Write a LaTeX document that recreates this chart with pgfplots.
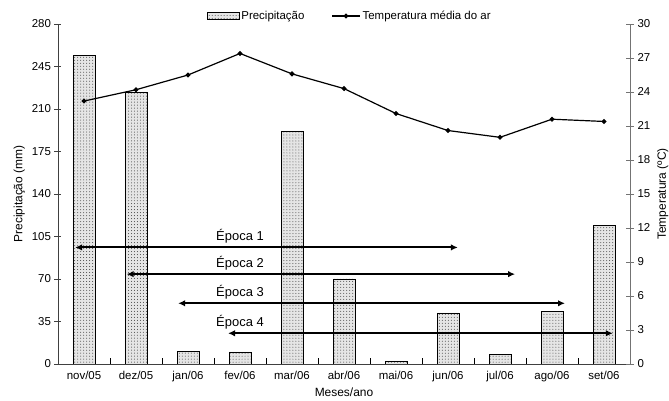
\documentclass[border=0pt]{standalone}
\usepackage{pgfplots}
\pgfplotsset{compat=1.18}
\usepackage{fontspec}
\setmainfont{Liberation Sans}
\usetikzlibrary{patterns,arrows.meta}
\pgfplotsset{
  mybarlegend/.style={legend image code/.code={\draw[##1] (0bp,-3.5bp) rectangle (32bp,3.5bp);}},
  mylinelegend/.style={legend image code/.code={\draw[##1,mark repeat=2,mark phase=2] plot coordinates {(0bp,0bp) (14bp,0bp) (28bp,0bp)};}},
  myarrow/.style={draw=black, line width=2bp, {Latex[length=7bp,width=6.5bp]}-{Latex[length=7bp,width=6.5bp]}},
}
\begin{document}
\begin{tikzpicture}
\pgfplotsset{
  every axis/.append style={
    scale only axis, width=572bp, height=340bp, at={(0,0)}, anchor=south west,
    xmin=-0.5, xmax=10.5,
    /pgf/number format/assume math mode=true,
    tick label style={font=\fontsize{11.5}{13}\selectfont},
    label style={font=\fontsize{12}{14}\selectfont},
  }
}
\begin{axis}[
  ymin=0, ymax=280, ytick={0,35,...,280},
  axis x line=bottom, axis y line=left,
  axis line style={-, black!75, line width=0.8bp},
  xtick={0,...,10},
  xticklabels={nov/05,dez/05,jan/06,fev/06,mar/06,abr/06,mai/06,jun/06,jul/06,ago/06,set/06},
  major x tick style={draw=none},
  minor xtick={-0.5,0.5,...,10.5},
  minor tick length=6bp,
  minor x tick style={black, yshift=3bp},
  major tick length=7bp,
  tick align=center,
  ytick style={black!75},
  ylabel={Precipitação (mm)},
  xlabel={Meses/ano},
  xlabel style={yshift=1bp},
]
\addplot[ybar, bar width=22bp, bar shift=0pt, draw=black, line width=0.6bp, fill=black!10, postaction={pattern=dots, pattern color=black!75}]
coordinates {(0,254) (1,224) (2,10.7) (3,10) (4,192) (5,70) (6,2.5) (7,42) (8,8) (9,43.6) (10,114)};
\addplot[myarrow] coordinates {(-0.17,96) (7.19,96)};
\addplot[myarrow] coordinates {(0.82,74) (8.29,74)};
\addplot[myarrow] coordinates {(1.81,50) (9.25,50)};
\addplot[myarrow] coordinates {(2.77,25.3) (10.17,25.3)};
\node[font=\fontsize{13}{15}\selectfont] at (axis cs:3,105.4) {Época 1};
\node[font=\fontsize{13}{15}\selectfont] at (axis cs:3,83.2) {Época 2};
\node[font=\fontsize{13}{15}\selectfont] at (axis cs:3,59.3) {Época 3};
\node[font=\fontsize{13}{15}\selectfont] at (axis cs:3,34.6) {Época 4};
\end{axis}
\begin{axis}[
  ymin=0, ymax=30, ytick={0,3,...,30},
  axis x line=none, axis y line=right,
  axis line style={-, black!55, line width=0.8bp},
  ytick style={black!55},
  major tick length=8bp, tick align=center,
  ylabel={Temperatura (ºC)},
  ylabel style={font=\fontsize{12}{14}\selectfont},
  legend style={draw=none, fill=none, at={(0.51,1.0235)}, anchor=center, legend columns=2,
    /tikz/every even column/.append style={column sep=25bp}, font=\fontsize{11.5}{13}\selectfont},
]
\addlegendimage{draw=black, line width=0.6bp, fill=black!10, postaction={pattern=dots, pattern color=black!75}, mybarlegend}
\addlegendentry{Precipitação}
\addplot[black, line width=1.2bp, mark=*, mark size=1.8bp, mylinelegend]
coordinates {(0,23.2) (1,24.2) (2,25.5) (3,27.4) (4,25.6) (5,24.3) (6,22.1) (7,20.6) (8,20.0) (9,21.6) (10,21.4)};
\addlegendentry{Temperatura média do ar}
\end{axis}
\pgfresetboundingbox
\path[use as bounding box] (-58bp,-37bp) rectangle (611bp,364bp);
\end{tikzpicture}
\end{document}
